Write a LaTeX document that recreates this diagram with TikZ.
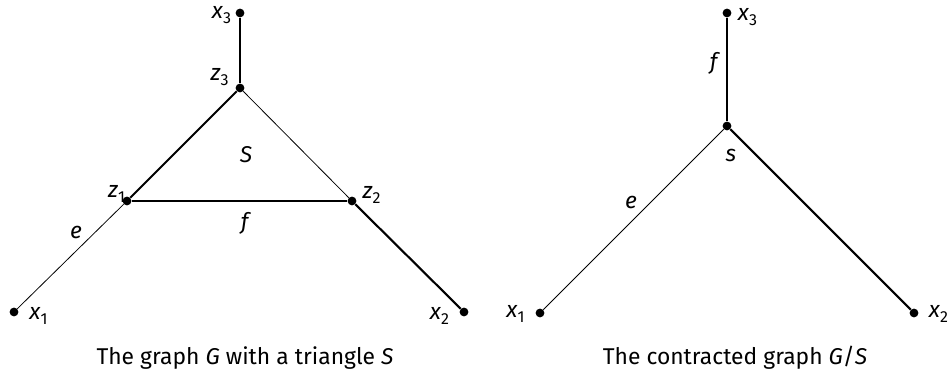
\documentclass[tikz,border=0pt]{standalone}
\usepackage{fontspec}
\setmainfont{Fira Sans}[Scale=1.3]
\newcommand{\var}[2]{\textit{#1}\textsubscript{#2}}
\tikzset{
  vertex/.style={circle,fill,inner sep=0pt,minimum size=5pt},
  thinedge/.style={line width=0.45pt},
  thickedge/.style={line width=1.2pt},
}
\begin{document}
\begin{tikzpicture}[x=0.02cm,y=-0.02cm]
  \useasboundingbox (0,0) rectangle (948,374);
  % graph G with triangle S
  \node[vertex] (x3)  at (240,13)  {};
  \node[vertex] (z3)  at (240,88)  {};
  \node[vertex] (z1)  at (127,201) {};
  \node[vertex] (z2)  at (352,201) {};
  \node[vertex] (x1)  at (14,312)  {};
  \node[vertex] (x2)  at (464,312) {};
  \draw[thickedge] (x3) -- (z3);
  \draw[thickedge] (z3) -- (z1);
  \draw[thinedge]  (z3) -- (z2);
  \draw[thickedge] (z1) -- (z2);
  \draw[thinedge]  (z1) -- (x1);
  \draw[thickedge] (z2) -- (x2);
  \node (lx3) at (222,15)  {\var{x}{3}};
  \node (lz3) at (220,77)  {\var{z}{3}};
  \node (lz1) at (117,194) {\var{z}{1}};
  \node (lz2) at (372,195) {\var{z}{2}};
  \node (lx1) at (39,316)  {\var{x}{1}};
  \node (lx2) at (440,316) {\var{x}{2}};
  \node (lS)  at (246,155) {\textit{S}};
  \node (lf)  at (246,223) {\textit{f}};
  \node (le)  at (76,232)  {\textit{e}};
  \node (capG) at (245,358) {The graph \textit{G} with a triangle \textit{S}};
  % contracted graph G/S
  \node[vertex] (y3) at (727,13)  {};
  \node[vertex] (s)  at (727,126) {};
  \node[vertex] (y1) at (540,313) {};
  \node[vertex] (y2) at (914,313) {};
  \draw[thickedge] (y3) -- (s);
  \draw[thinedge]  (s) -- (y1);
  \draw[thickedge] (s) -- (y2);
  \node (ly3) at (748,17)  {\var{x}{3}};
  \node (ly1) at (516,314) {\var{x}{1}};
  \node (ly2) at (939,314) {\var{x}{2}};
  \node (ls)  at (731,155) {\textit{s}};
  \node (lf2) at (715,63)  {\textit{f}};
  \node (le2) at (631,202) {\textit{e}};
  \node (capGS) at (735,358) {The contracted graph \textit{G}/\textit{S}};
\end{tikzpicture}
\end{document}
